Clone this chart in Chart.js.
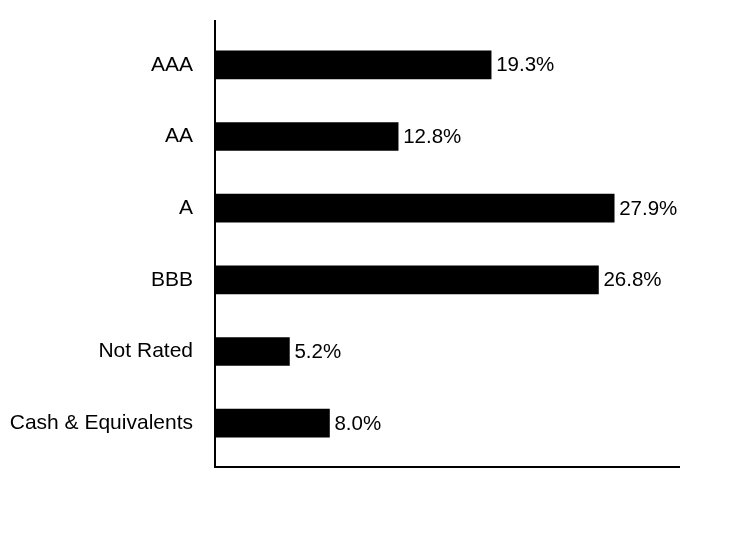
<!DOCTYPE html>
<html>
<head>
<meta charset="utf-8">
<script src="https://cdn.jsdelivr.net/npm/chart.js@4/dist/chart.umd.min.js"></script>
<style>
  html, body { margin: 0; padding: 0; background: #fff; }
  #wrap { width: 732px; height: 552px; position: relative; }
</style>
</head>
<body>
<div id="wrap"><canvas id="c" width="732" height="552"></canvas></div>
<script>
const categories = ["AAA", "AA", "A", "BBB", "Not Rated", "Cash & Equivalents"];
const values = [19.3, 12.8, 27.9, 26.8, 5.2, 8.0];
const xMin = 0;
const xMax = 32.5;

const FONT = "'Liberation Sans', Arial, sans-serif";

const axisLines = {
  id: 'axisLines',
  afterDatasetsDraw(chart) {
    const { ctx, chartArea } = chart;
    ctx.save();
    ctx.strokeStyle = '#000';
    ctx.lineWidth = 2;
    ctx.beginPath();
    ctx.moveTo(chartArea.left, chartArea.top - 9);
    ctx.lineTo(chartArea.left, chartArea.bottom + 9);
    ctx.moveTo(chartArea.left - 1, chartArea.bottom + 8);
    ctx.lineTo(chartArea.right, chartArea.bottom + 8);
    ctx.stroke();
    ctx.restore();
  }
};

const valueLabels = {
  id: 'valueLabels',
  afterDatasetsDraw(chart) {
    const { ctx } = chart;
    const meta = chart.getDatasetMeta(0);
    ctx.save();
    ctx.fillStyle = '#000';
    ctx.font = '20.5px ' + FONT;
    ctx.textAlign = 'left';
    ctx.textBaseline = 'middle';
    meta.data.forEach((bar, i) => {
      ctx.fillText(values[i].toFixed(1) + '%', bar.x + 5, bar.y + 1);
    });
    ctx.restore();
  }
};

new Chart(document.getElementById('c'), {
  type: 'bar',
  data: {
    labels: categories,
    datasets: [{
      data: values,
      backgroundColor: '#000',
      borderWidth: 0,
      barThickness: 28
    }]
  },
  options: {
    indexAxis: 'y',
    responsive: false,
    animation: false,
    devicePixelRatio: 1,
    layout: { padding: { top: 29, bottom: 93, right: 52, left: 0 } },
    plugins: { legend: { display: false }, tooltip: { enabled: false } },
    scales: {
      x: {
        display: false,
        min: xMin,
        max: xMax
      },
      y: {
        grid: { display: false, drawTicks: false },
        border: { display: false },
        ticks: {
          color: '#000',
          padding: 22,
          font: { family: FONT, size: 21 }
        },
        afterFit(scale) {
          scale.width = 215;
          scale.paddingTop = 0;
          scale.paddingBottom = 0;
        }
      }
    }
  },
  plugins: [axisLines, valueLabels]
});
</script>
</body>
</html>
